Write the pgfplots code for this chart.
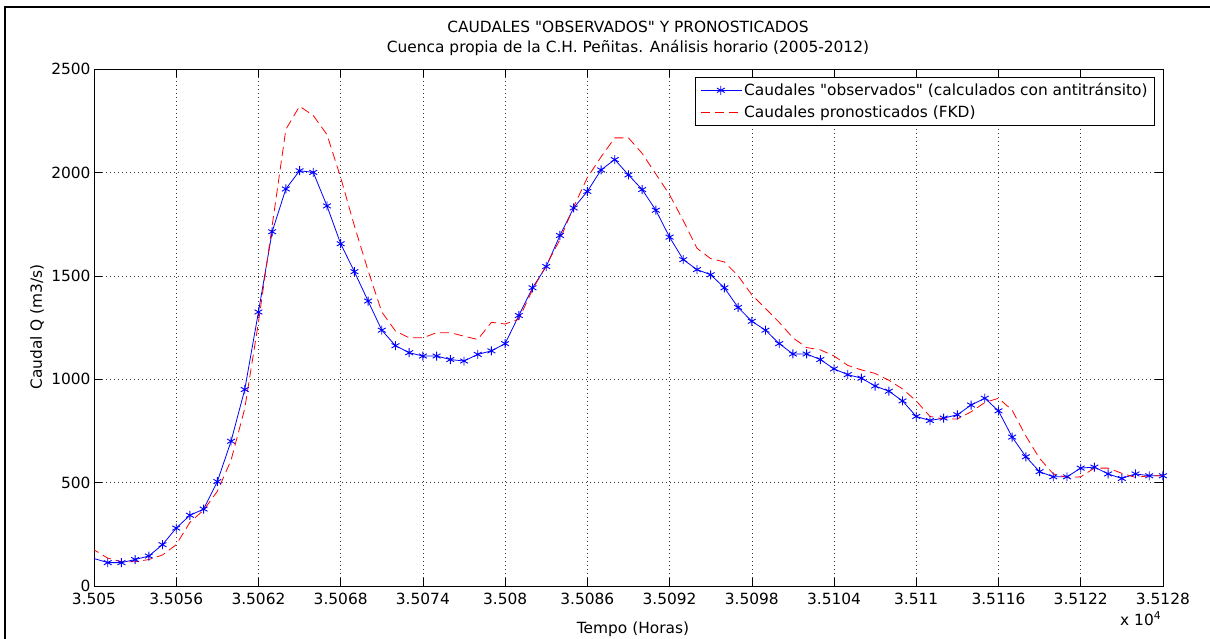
\documentclass[border=0pt]{standalone}
\usepackage{pgfplots}
\pgfplotsset{compat=1.18}
\usepackage{fontspec}
\setmainfont{DejaVu Sans}
\newcommand{\fs}{\fontsize{15.4}{18}\selectfont}

% caudales observados (calculados con antitransito)
\pgfplotstableread{
t q
35049 150
35050 133
35051 113
35052 113
35053 128
35054 145
35055 200
35056 280
35057 342
35058 372
35059 505
35060 700
35061 950
35062 1325
35063 1713
35064 1920
35065 2008
35066 2000
35067 1838
35068 1655
35069 1520
35070 1378
35071 1237
35072 1162
35073 1128
35074 1112
35075 1112
35076 1095
35077 1088
35078 1120
35079 1137
35080 1172
35081 1308
35082 1442
35083 1545
35084 1695
35085 1828
35086 1908
35087 2012
35088 2062
35089 1988
35090 1917
35091 1817
35092 1687
35093 1578
35094 1530
35095 1505
35096 1442
35097 1347
35098 1280
35099 1237
35100 1172
35101 1122
35102 1122
35103 1095
35104 1050
35105 1022
35106 1005
35107 967
35108 942
35109 895
35110 820
35111 800
35112 812
35113 828
35114 875
35115 908
35116 847
35117 720
35118 625
35119 553
35120 528
35121 528
35122 570
35123 575
35124 542
35125 520
35126 542
35127 533
35128 533
}\obs

% caudales pronosticados (FKD)
\pgfplotstableread{
t q
35049 230
35050 175
35051 135
35052 117
35053 117
35054 128
35055 150
35056 200
35057 308
35058 367
35059 458
35060 608
35061 858
35062 1275
35063 1742
35064 2208
35065 2320
35066 2275
35067 2183
35068 1975
35069 1742
35070 1525
35071 1325
35072 1233
35073 1200
35074 1200
35075 1225
35076 1225
35077 1208
35078 1192
35079 1275
35080 1267
35081 1290
35082 1433
35083 1550
35084 1675
35085 1833
35086 1975
35087 2075
35088 2167
35089 2167
35090 2092
35091 1992
35092 1892
35093 1767
35094 1633
35095 1583
35096 1567
35097 1500
35098 1408
35099 1342
35100 1275
35101 1200
35102 1153
35103 1142
35104 1112
35105 1067
35106 1045
35107 1028
35108 995
35109 953
35110 895
35111 820
35112 808
35113 808
35114 842
35115 887
35116 908
35117 850
35118 725
35119 617
35120 542
35121 525
35122 528
35123 570
35124 570
35125 545
35126 525
35127 533
35128 533
}\fkd

\begin{document}
\begin{tikzpicture}[x=1pt,y=1pt]
\useasboundingbox (0,0) rectangle (1210,638);
\draw[line width=2.5pt] (5,-2) -- (5,631) -- (1212,631);

\begin{axis}[
    at={(94pt,52pt)}, anchor=south west,
    width=1069pt, height=517pt, scale only axis,
    xmin=35050, xmax=35128, ymin=0, ymax=2500,
    scaled x ticks=false, scaled y ticks=false,
    xtick={35050,35056,...,35128},
    xticklabels={3.505,3.5056,3.5062,3.5068,3.5074,3.508,3.5086,3.5092,3.5098,3.5104,3.511,3.5116,3.5122,3.5128},
    ytick={0,500,...,2500},
    yticklabels={0,500,1000,1500,2000,2500},
    tick align=inside, major tick length=8pt,
    every tick/.style={black, line width=0.6pt},
    axis line style={line width=0.8pt},
    grid=major,
    major grid style={black!80, line width=0.6pt, dash pattern=on 1pt off 3pt},
    ticklabel style={font=\fs},
    xticklabel style={yshift=-4pt},
    legend style={at={(0.99252,0.98453)}, anchor=north east, draw=black,
        line width=0.8pt, font=\fs,
        inner xsep=5pt, inner ysep=4pt, row sep=5pt},
    legend cell align=left,
    legend image code/.code={
        \draw[mark repeat=2,mark phase=2] plot coordinates {(0pt,0pt)(20pt,0pt)(41pt,0pt)};},
]
\addplot[blue, line width=0.8pt, mark=asterisk, mark size=4.5pt,
    mark options={solid, line width=0.9pt}, mark repeat=1, mark phase=2]
    table[x=t, y=q] {\obs};
\addlegendentry{Caudales \textquotedbl observados\textquotedbl\ (calculados con antitránsito)}
\addplot[red, line width=0.8pt, dash pattern=on 9pt off 5pt]
    table[x=t, y=q] {\fkd};
\addlegendentry{Caudales pronosticados (FKD)}
\end{axis}

\node[anchor=base, font=\fs] at (628,605) {CAUDALES \textquotedbl OBSERVADOS\textquotedbl\ Y PRONOSTICADOS};
\node[anchor=base, font=\fs] at (628,585) {Cuenca propia de la C.H. Peñitas. Análisis horario (2005-2012)};
\node[anchor=base, font=\fs] at (633,5) {Tempo (Horas)};
\node[rotate=90, font=\fs] at (37,311) {Caudal Q (m3/s)};
\node[anchor=base west, font=\fs, inner sep=0pt] at (1120,13) {x 10\textsuperscript{4}};
\end{tikzpicture}
\end{document}
